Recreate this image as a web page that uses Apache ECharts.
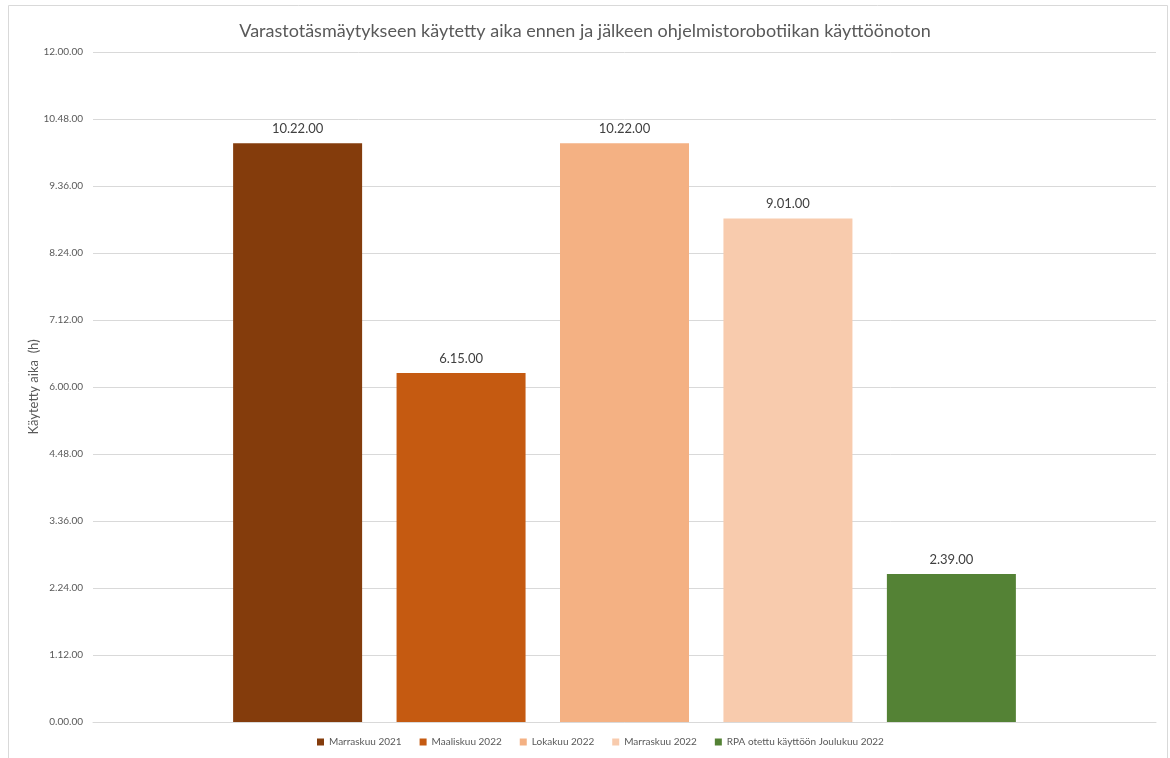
<!DOCTYPE html>
<html><head><meta charset="utf-8">
<script src="https://cdn.jsdelivr.net/npm/echarts@6/dist/echarts.min.js"></script>
<style>html,body{margin:0;padding:0;background:#fff}#c{width:1170px;height:758px}</style>
</head><body><div id="c"></div>
<script>
const seriesNames = ['Marraskuu 2021','Maaliskuu 2022','Lokakuu 2022','Marraskuu 2022','RPA otettu käyttöön Joulukuu 2022'];
const valuesMin = [622, 375, 622, 541, 159];
const colors = ['#843C0C','#C55A11','#F4B183','#F8CBAD','#548235'];
const categories = [''];
const yMax = 720, yInterval = 72;

function fmt(m){ const h=Math.floor(m/60), mm=Math.round(m%60); return h+'.'+String(mm).padStart(2,'0')+'.00'; }

const chart = echarts.init(document.getElementById('c'));
const FONT = 'Lato, "Open Sans", sans-serif';
chart.setOption({
  animation:false,
  textStyle:{fontFamily:FONT},
  title:{text:'Varastotäsmäytykseen käytetty aika ennen ja jälkeen ohjelmistorobotiikan käyttöönoton',left:'center',top:17,
    textStyle:{fontSize:18,fontWeight:'normal',color:'#595959',fontFamily:FONT}},
  graphic:[{type:'rect',shape:{x:8.5,y:5.5,width:1159,height:800},style:{fill:'none',stroke:'#d9d9d9',lineWidth:1},silent:true}],
  legend:{bottom:6,left:312,itemWidth:7,itemHeight:7,itemGap:18,icon:'rect',
    textStyle:{fontSize:10,color:'#595959',fontFamily:FONT}},
  grid:{left:93,right:14,top:52,bottom:36},
  xAxis:{type:'category',data:categories,axisLine:{lineStyle:{color:'#d9d9d9'}},axisTick:{show:false},axisLabel:{show:false}},
  yAxis:{type:'value',min:0,max:yMax,interval:yInterval,
    name:'Käytetty aika  (h)',nameLocation:'middle',nameGap:53,nameMoveOverlap:false,nameTextStyle:{fontSize:13,color:'#595959'},
    axisLine:{show:false},axisTick:{show:false},
    axisLabel:{formatter:v=>fmt(v),fontSize:10,color:'#595959',margin:10},
    splitLine:{lineStyle:{color:'#d9d9d9'}}},
  series: seriesNames.map((n,i)=>({
    name:n,type:'bar',barWidth:129,barGap:'26.7%',
    data:[valuesMin[i]],
    itemStyle:{color:colors[i]},
    label:{show:true,position:'top',distance:8,formatter:p=>fmt(p.value),fontSize:13,color:'#404040'}
  }))
});
</script></body></html>
